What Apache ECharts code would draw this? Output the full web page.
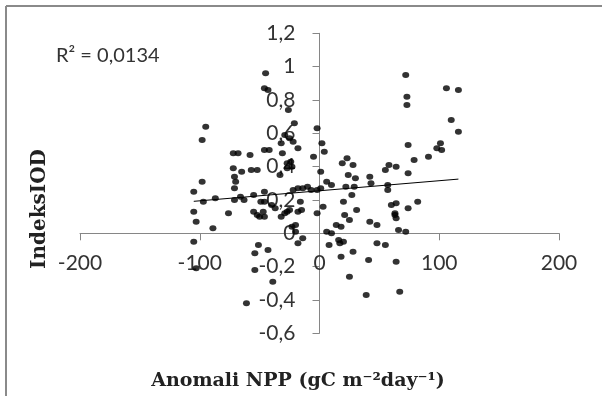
<!DOCTYPE html>
<html>
<head>
<meta charset="utf-8">
<script src="https://cdn.jsdelivr.net/npm/echarts@6/dist/echarts.min.js"></script>
<style>html,body{margin:0;padding:0;background:#fff}#c{width:602px;height:396px}</style>
</head>
<body>
<div id="c"></div>
<script>
// Anomali NPP (x) values
var npp = [-45,-46,-43,-26,-21,-95,-98,-2,2,4,-5,-29,-25,-22,-18,-32,-46,-42,-72,-68,
  -58,-31,-27,-24,-27,-23,-72,-65,-57,-52,-71,-70,-71,-33,-98,1,6,10,-22,-18,
  -14,-10,-7,-2,1,-105,-97,-87,-71,-66,-63,-55,-46,-46,-49,-40,-37,-16,-15,-18,
  -32,-29,-27,-25,3,-105,-103,-76,-89,-55,-52,-50,-47,-46,-23,-20,-20,-14,-18,-105,
  -51,-43,-54,-103,-54,-39,-61,-2,6,10,14,18,8,16,17,20,18,28,25,41,
  39,42,48,48,55,60,64,63,63,64,66,72,74,82,64,67,20,27,31,21,
  25,22,29,24,30,42,43,57,57,72,73,73,106,116,110,116,74,79,91,98,
  101,102,23,19,28,55,58,64,74];
// Indeks IOD (y) values
var iod = [0.96,0.87,0.86,0.74,0.66,0.64,0.56,0.63,0.54,0.49,0.46,0.59,0.57,0.55,0.51,0.54,0.50,0.50,0.48,0.48,
  0.47,0.48,0.42,0.43,0.39,0.40,0.39,0.37,0.38,0.38,0.34,0.31,0.27,0.35,0.31,0.37,0.31,0.29,0.26,0.27,
  0.27,0.28,0.26,0.26,0.27,0.25,0.19,0.21,0.20,0.22,0.20,0.23,0.25,0.19,0.19,0.17,0.15,0.19,0.14,0.13,
  0.10,0.12,0.13,0.14,0.16,0.13,0.07,0.12,0.03,0.13,0.11,0.10,0.13,0.10,0.04,0.05,0.01,-0.03,-0.06,-0.05,
  -0.07,-0.10,-0.12,-0.21,-0.22,-0.29,-0.42,0.12,0.01,0.00,0.05,0.04,-0.07,-0.04,-0.06,-0.05,-0.14,-0.11,-0.26,-0.16,
  -0.37,0.07,0.05,-0.06,-0.07,0.17,0.18,0.12,0.11,0.09,0.02,0.01,0.15,0.19,-0.17,-0.35,0.19,0.23,0.14,0.11,
  0.08,0.28,0.28,0.35,0.33,0.34,0.30,0.29,0.26,0.95,0.82,0.77,0.87,0.86,0.68,0.61,0.53,0.44,0.46,0.51,
  0.54,0.50,0.45,0.42,0.41,0.38,0.41,0.40,0.36];
var xTicks = {min: -200, max: 200, step: 100};
var yTicks = {min: -0.6, max: 1.2, step: 0.2};
var r2Label = 'R² = 0,0134';
var xTitle = 'Anomali NPP (gC m⁻²day⁻¹)';
var yTitle = 'IndeksIOD';

var pts = npp.map(function (x, i) { return [x, iod[i]]; });
// least-squares trend line
var n = npp.length, sx = 0, sy = 0, sxx = 0, sxy = 0;
for (var i = 0; i < n; i++) { sx += npp[i]; sy += iod[i]; sxx += npp[i] * npp[i]; sxy += npp[i] * iod[i]; }
var slope = (n * sxy - sx * sy) / (n * sxx - sx * sx);
var icpt = (sy - slope * sx) / n;
var xmin = Math.min.apply(null, npp), xmax = Math.max.apply(null, npp);
var trend = [[xmin, icpt + slope * xmin], [xmax, icpt + slope * xmax]];

var W = 602, H = 396;
var grid = {left: 80, right: 43, top: 33.3, bottom: 62.7};
var plotW = W - grid.left - grid.right, plotH = H - grid.top - grid.bottom;
// place each axis at the other axis' zero (labels follow the line)
var yAxisOffset = -plotW * (0 - xTicks.min) / (xTicks.max - xTicks.min);
var xAxisOffset = -plotH * (0 - yTicks.min) / (yTicks.max - yTicks.min);

var chart = echarts.init(document.getElementById('c'), null, {renderer: 'canvas'});
var axisCol = '#868686';
var labelFont = 'Lato';
chart.setOption({
  animation: false,
  backgroundColor: '#fff',
  grid: {left: grid.left, right: grid.right, top: grid.top, bottom: grid.bottom, containLabel: false, outerBoundsMode: 'none'},
  xAxis: {
    type: 'value', min: xTicks.min, max: xTicks.max, interval: xTicks.step,
    position: 'bottom', offset: xAxisOffset,
    axisLine: {onZero: false, lineStyle: {color: axisCol, width: 1}},
    axisTick: {show: true, length: 7, lineStyle: {color: axisCol}},
    splitLine: {show: false},
    axisLabel: {margin: 19, fontSize: 21, fontFamily: labelFont, color: '#333'}
  },
  yAxis: {
    type: 'value', min: yTicks.min, max: yTicks.max, interval: yTicks.step,
    position: 'left', offset: yAxisOffset,
    axisLine: {onZero: false, lineStyle: {color: axisCol, width: 1}},
    axisTick: {show: true, length: 7, lineStyle: {color: axisCol}},
    splitLine: {show: false},
    axisLabel: {margin: 24, fontSize: 21, fontFamily: labelFont, color: '#333',
      formatter: function (v) { return String(Number(v.toFixed(1))).replace('.', ','); }}
  },
  series: [
    {type: 'scatter', data: pts, symbol: 'circle', symbolSize: [7, 6],
      itemStyle: {color: '#000'}, z: 3},
    {type: 'line', data: trend, symbol: 'none', lineStyle: {color: '#000', width: 1}, z: 2}
  ],
  graphic: [
    {type: 'line', shape: {x1: 6, y1: 6, x2: 602, y2: 6}, style: {stroke: '#8a8a8a', lineWidth: 2}},
    {type: 'line', shape: {x1: 6, y1: 6, x2: 6, y2: 396}, style: {stroke: '#8a8a8a', lineWidth: 2}},
    {type: 'text', x: 56, y: 55.5, style: {text: r2Label, fontSize: 20, fontFamily: labelFont, fill: '#333', align: 'left', verticalAlign: 'middle'}},
    {type: 'text', x: 40, y: 209, rotation: Math.PI / 2,
      style: {text: yTitle, fontSize: 20, fontWeight: 'bold', fontFamily: 'DejaVu Serif', fill: '#222', align: 'center', verticalAlign: 'middle'}},
    {type: 'text', x: 298, y: 381,
      style: {text: xTitle, fontSize: 19, fontWeight: 'bold', fontFamily: 'DejaVu Serif', fill: '#222', align: 'center', verticalAlign: 'middle'}}
  ]
});
</script>
</body>
</html>
